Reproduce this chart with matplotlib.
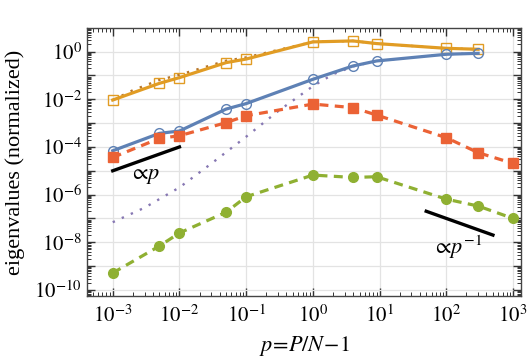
import numpy as np
import matplotlib
matplotlib.use('Agg')
import matplotlib.pyplot as plt
from matplotlib.ticker import FixedLocator, FuncFormatter, NullFormatter

plt.rcParams['font.family'] = ['Liberation Serif', 'DejaVu Serif']
plt.rcParams['mathtext.fontset'] = 'stix'

# data (log10 values of eigenvalues)
p_sim = [1e-3, 5e-3, 1e-2, 5e-2, 1e-1, 1, 4, 9, 100, 300]
p_sim_full = [1e-3, 5e-3, 1e-2, 5e-2, 1e-1, 1, 4, 9, 100, 300, 1000]

log_orange = [-2.03, -1.33, -1.09, -0.46, -0.31, 0.41, 0.45, 0.34, 0.14, 0.10]
log_blue = [-4.16, -3.43, -3.33, -2.41, -2.18, -1.16, -0.60, -0.39, -0.11, -0.07]
log_red = [-4.44, -3.64, -3.53, -2.98, -2.69, -2.20, -2.35, -2.66, -3.61, -4.24, -4.69]
log_green = [-9.29, -8.16, -7.61, -6.74, -6.09, -5.18, -5.28, -5.25, -6.19, -6.48, -7.0]

# theory curves (dotted)
p_theory_top = [1e-3, 2e-3, 5e-3, 1e-2, 5e-2, 1e-1, 1, 4, 9, 100, 300]
log_theory_top = [-2.03, -1.62, -1.19, -0.97, -0.38, -0.24, 0.41, 0.45, 0.34, 0.14, 0.10]
p_theory_low = [1e-3, 3e-3, 1e-2, 3e-2, 1e-1, 3e-1, 1, 2, 4, 9, 100, 300]
log_theory_low = [-7.16, -6.55, -5.7, -4.7, -3.57, -2.5, -1.45, -0.95, -0.62, -0.39, -0.11, -0.07]

# guide lines
guide_p_x = [1e-3, 1e-2]
guide_p_y = [1e-5, 1e-4]
guide_pinv_x = [50, 500]
guide_pinv_y = [2e-7, 2e-8]

# axis decades
x_decades = [-3, -2, -1, 0, 1, 2, 3]
y_decades = [-10, -9, -8, -7, -6, -5, -4, -3, -2, -1, 0]

c_blue = '#5E81B5'
c_orange = '#E19C24'
c_green = '#8FB032'
c_red = '#EB6235'
c_purple = '#8778B3'


def minor_positions(decades, lo, hi):
    pos = [m * 10.0 ** d for d in range(min(decades) - 1, max(decades) + 1)
           for m in range(2, 10)]
    return [v for v in pos if lo <= v <= hi]


def plot_eigenvalues():
    fig = plt.figure(figsize=(5.32, 3.63), dpi=100)
    ax = fig.add_axes([0.163, 0.185, 0.817, 0.737])
    ax.set_xscale('log')
    ax.set_yscale('log')

    ax.plot(p_theory_top, 10.0 ** np.array(log_theory_top), color='#B8762A',
            lw=1.7, dashes=(1, 3.2), zorder=2)
    ax.plot(p_theory_low, 10.0 ** np.array(log_theory_low), color=c_purple,
            lw=1.7, dashes=(1, 3.2), zorder=2)

    ax.plot(p_sim, 10.0 ** np.array(log_orange), color=c_orange, lw=2.3,
            marker='s', ms=7.5, mfc='none', mec=c_orange, mew=1, zorder=3)
    ax.plot(p_sim, 10.0 ** np.array(log_blue), color=c_blue, lw=2.3,
            marker='o', ms=7, mfc='none', mec=c_blue, mew=1, zorder=3)
    ax.plot(p_sim_full, 10.0 ** np.array(log_red), color=c_red, lw=2.3,
            dashes=(2.8, 2), marker='s', ms=6.5, zorder=3)
    ax.plot(p_sim_full, 10.0 ** np.array(log_green), color=c_green, lw=2.3,
            dashes=(2.8, 2), marker='o', ms=7, zorder=3)

    ax.plot(guide_p_x, guide_p_y, color='black', lw=2.4, zorder=4)
    ax.plot(guide_pinv_x, guide_pinv_y, color='black', lw=2.4, zorder=4)
    ax.text(10 ** -2.52, 10 ** -5.25, r'$\propto\! p$', fontsize=16,
            ha='center', va='center')
    ax.text(10 ** 2.17, 10 ** -8.2, r'$\propto\! p^{-1}$', fontsize=16,
            ha='center', va='center')

    xlo, xhi = 10 ** -3.39, 10 ** 3.125
    ylo, yhi = 10 ** -10.25, 10 ** 0.98
    ax.set_xlim(xlo, xhi)
    ax.set_ylim(ylo, yhi)

    ax.xaxis.set_major_locator(FixedLocator([10.0 ** d for d in x_decades]))
    ax.yaxis.set_major_locator(FixedLocator([10.0 ** d for d in y_decades]))
    ax.xaxis.set_minor_locator(FixedLocator(minor_positions(x_decades, xlo, xhi)))
    ax.yaxis.set_minor_locator(FixedLocator(minor_positions(y_decades, ylo, yhi)))
    ax.xaxis.set_major_formatter(FuncFormatter(
        lambda v, pos: r'$10^{%d}$' % round(np.log10(v))))
    ax.yaxis.set_major_formatter(FuncFormatter(
        lambda v, pos: r'$10^{%d}$' % round(np.log10(v))
        if round(np.log10(v)) % 2 == 0 else ''))
    ax.xaxis.set_minor_formatter(NullFormatter())
    ax.yaxis.set_minor_formatter(NullFormatter())

    ax.tick_params(which='both', direction='in', top=True, right=True,
                   labelsize=15, color='#333333')
    ax.tick_params(which='major', length=6, width=1)
    ax.tick_params(which='minor', length=3, width=0.7)
    ax.tick_params(axis='x', pad=7)
    ax.grid(True, which='major', color='#e3e3e3', lw=0.9)
    ax.set_axisbelow(True)
    for s in ax.spines.values():
        s.set_color('#444444')
        s.set_linewidth(1.0)

    ax.set_xlabel(r'$p\!=\!P/N\!-\!1$', fontsize=16, labelpad=5)
    ax.set_ylabel('eigenvalues (normalized)', fontsize=16)
    ax.yaxis.set_label_coords(-0.142, 0.5)

    fig.savefig('out.png', dpi=100)


if __name__ == '__main__':
    plot_eigenvalues()
